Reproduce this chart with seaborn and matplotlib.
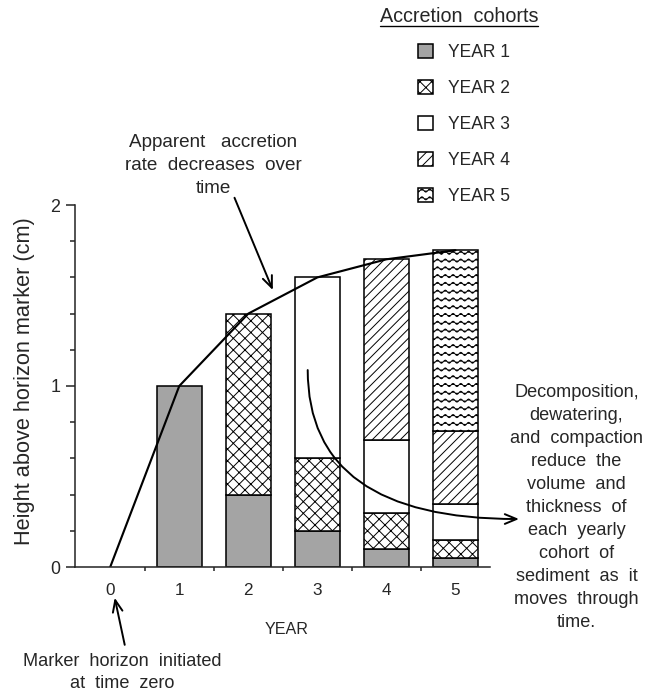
"""Stacked accretion cohort bars with apparent accretion curve."""

import warnings

import matplotlib

matplotlib.use("Agg")
import matplotlib.hatch as mhatch
import matplotlib.patches as mpatches
import matplotlib.pyplot as plt
import numpy as np
import pandas as pd
import seaborn as sns
from matplotlib.lines import Line2D
from matplotlib.path import Path
from matplotlib.ticker import FixedLocator, MultipleLocator

warnings.filterwarnings("ignore")

# --- data -------------------------------------------------------------
years = [0, 1, 2, 3, 4, 5]
bar_years = [1, 2, 3, 4, 5]
cohort_labels = ["YEAR 1", "YEAR 2", "YEAR 3", "YEAR 4", "YEAR 5"]

# thickness (cm) of each yearly cohort as seen at the end of years 1..5
year1_cohort = [1.0, 0.4, 0.2, 0.1, 0.05]
year2_cohort = [0.0, 1.0, 0.4, 0.2, 0.1]
year3_cohort = [0.0, 0.0, 1.0, 0.4, 0.2]
year4_cohort = [0.0, 0.0, 0.0, 1.0, 0.4]
year5_cohort = [0.0, 0.0, 0.0, 0.0, 1.0]

cohort_colors = ["#a4a4a4", "white", "white", "white", "white"]
cohort_hatches = [None, "xxxx", None, "/////", "~~~"]


class WavyHatch(mhatch.HatchPatternBase):
    """Horizontal wavy lines, selected with the '~' hatch character."""

    PTS_PER_WAVE = 8

    def __init__(self, hatch, density):
        self.num_lines = int(hatch.count("~") * density)
        self.num_points = self.PTS_PER_WAVE * self.num_lines + 1
        self.num_vertices = self.num_lines * self.num_points

    def set_vertices_and_codes(self, vertices, codes):
        xs = np.linspace(0.0, 1.0, self.num_points)
        amp = 0.2 / max(self.num_lines, 1)
        offs = amp * np.sin(2 * np.pi * self.num_lines * xs)
        n = self.num_points
        for i in range(self.num_lines):
            y = (i + 0.5) / self.num_lines
            vertices[i * n:(i + 1) * n, 0] = xs
            vertices[i * n:(i + 1) * n, 1] = y + offs
            codes[i * n] = Path.MOVETO
            codes[i * n + 1:(i + 1) * n] = Path.LINETO


mhatch._hatch_types.append(WavyHatch)

# --- long table for stacking -----------------------------------------
layers = [year1_cohort, year2_cohort, year3_cohort, year4_cohort, year5_cohort]
rows = []
bottoms = np.zeros(len(bar_years))
for label, values in zip(cohort_labels, layers):
    for yr, h, b in zip(bar_years, values, bottoms):
        rows.append({"year": yr, "cohort": label, "height": h, "bottom": b})
    bottoms = bottoms + np.array(values)
df = pd.DataFrame(rows)
totals = [0.0] + list(bottoms)

# --- style -----------------------------------------------------------
sns.set_style("ticks")
plt.rcParams["font.family"] = ["Liberation Sans", "DejaVu Sans"]
plt.rcParams["hatch.linewidth"] = 0.5
plt.rcParams["axes.linewidth"] = 0.8

DPI = 140
fig = plt.figure(figsize=(653 / DPI, 692 / DPI), dpi=DPI)
ax = fig.add_axes([75 / 653, 125 / 692, 415 / 653, 362 / 692])

for label, color, hatch in zip(cohort_labels, cohort_colors, cohort_hatches):
    sub = df[(df["cohort"] == label) & (df["height"] > 0)]
    sns.barplot(
        data=sub,
        x="year",
        y="height",
        native_scale=True,
        width=0.65,
        bottom=sub["bottom"].to_numpy(),
        color=color,
        saturation=1,
        hatch=hatch,
        edgecolor="black",
        linewidth=0.8,
        errorbar=None,
        ax=ax,
    )

sns.lineplot(x=years, y=totals, color="black", linewidth=1.1, ax=ax)

ax.set_xlim(-0.51, 5.5)
ax.set_ylim(0, 2)
sns.despine(ax=ax)

ax.xaxis.set_major_locator(FixedLocator(years))
ax.set_xticklabels([str(y) for y in years])
ax.xaxis.set_minor_locator(FixedLocator([0.5, 1.5, 2.5, 3.5, 4.5]))
ax.yaxis.set_major_locator(FixedLocator([0, 1, 2]))
ax.yaxis.set_minor_locator(MultipleLocator(0.2))
ax.set_yticklabels(["0", "1", "2"])
ax.tick_params(axis="x", which="major", length=0, pad=8, labelsize=8.8)
ax.tick_params(axis="x", which="minor", length=2.2, width=0.8, direction="out")
ax.tick_params(axis="y", which="major", length=4.6, width=0.8, pad=3, labelsize=9.2)
ax.tick_params(axis="y", which="minor", length=2.6, width=0.8)

ax.set_xlabel("YEAR", fontsize=8.3)
ax.xaxis.set_label_coords(0.511, -0.152)
ax.set_ylabel("Height above horizon marker (cm)", fontsize=11.2)
ax.yaxis.set_label_coords(-0.096, 0.514)

# --- annotations -------------------------------------------------------
arrow_kw = dict(arrowstyle="->,head_length=0.6,head_width=0.25", color="black",
                lw=1.0, shrinkA=0, shrinkB=0)
ax.annotate("", xy=(2.355, 1.53), xytext=(1.80, 2.04), arrowprops=arrow_kw,
            annotation_clip=False)
ax.annotate("", xy=(0.065, -0.17), xytext=(0.21, -0.43), arrowprops=arrow_kw,
            annotation_clip=False)
ax.annotate("", xy=(5.92, 0.265), xytext=(2.86, 1.088),
            arrowprops=dict(arrow_kw, connectionstyle="angle3,angleA=90,angleB=0"),
            annotation_clip=False)

fig.text(213 / 653, 1 - 165.5 / 692, "Apparent   accretion\nrate  decreases  over\ntime",
         ha="center", va="center", multialignment="center", fontsize=9.7, linespacing=1.45)
fig.text(576.5 / 653, 1 - 507.5 / 692,
         "Decomposition,\ndewatering,\nand  compaction\nreduce  the\nvolume  and\n"
         "thickness  of\neach  yearly\ncohort  of\nsediment  as  it\nmoves  through\ntime.",
         ha="center", va="center", multialignment="center", fontsize=9.3, linespacing=1.46)
fig.text(122 / 653, 1 - 672.5 / 692, "Marker  horizon  initiated\nat  time  zero",
         ha="center", va="center", multialignment="center", fontsize=9.3, linespacing=1.43)

# --- legend ------------------------------------------------------------
fig.text(459 / 653, 1 - 17 / 692, "Accretion  cohorts", ha="center", va="center",
         fontsize=10.2)
fig.add_artist(Line2D([380 / 653, 538 / 653], [1 - 26 / 692, 1 - 26 / 692],
                      color="black", lw=0.7))
handles = [
    mpatches.Patch(facecolor=c, hatch=h, edgecolor="black", linewidth=0.8)
    for c, h in zip(cohort_colors, cohort_hatches)
]
fig.legend(handles, cohort_labels, loc="upper left",
           bbox_to_anchor=(418 / 653, 1 - 44 / 692), frameon=False, fontsize=9,
           handlelength=0.85, handleheight=0.85, handletextpad=0.85,
           labelspacing=1.08, borderpad=0, borderaxespad=0)

fig.savefig("out.png", dpi=DPI)
plt.close(fig)
